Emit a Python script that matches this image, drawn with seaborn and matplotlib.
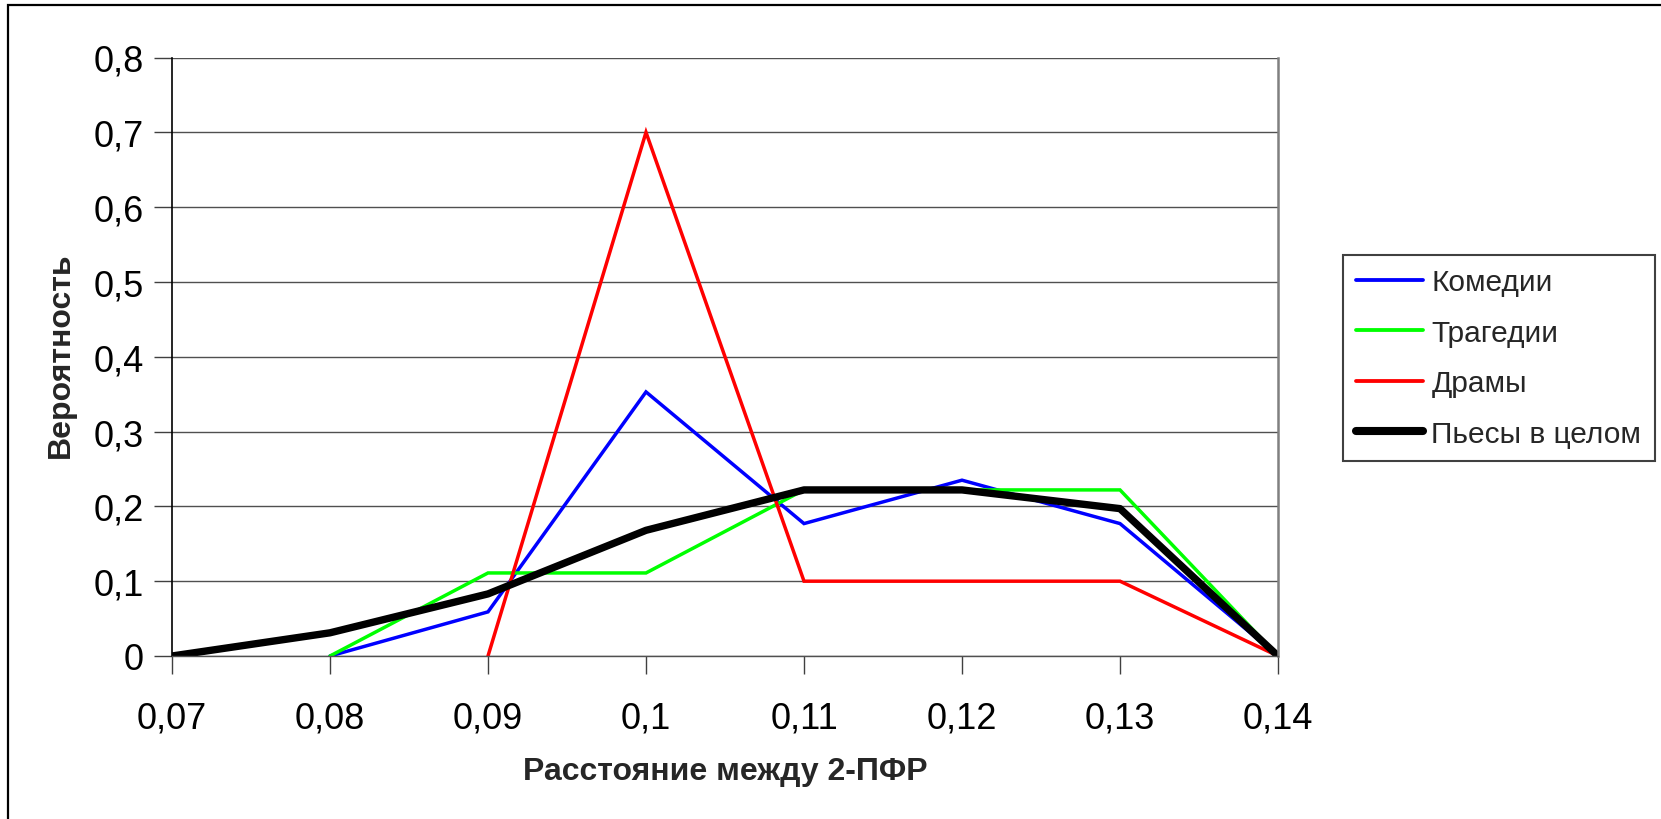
import matplotlib
matplotlib.use("Agg")
import matplotlib.pyplot as plt
import seaborn as sns
import pandas as pd
import numpy as np
from matplotlib.patches import Rectangle

# ---- data ----
x_values = [0.07, 0.08, 0.09, 0.10, 0.11, 0.12, 0.13, 0.14]
x_tick_labels = ["0,07", "0,08", "0,09", "0,1", "0,11", "0,12", "0,13", "0,14"]
y_ticks = [0, 0.1, 0.2, 0.3, 0.4, 0.5, 0.6, 0.7, 0.8]
y_tick_labels = ["0", "0,1", "0,2", "0,3", "0,4", "0,5", "0,6", "0,7", "0,8"]

comedies = [None, 0.0, 0.059, 0.353, 0.177, 0.235, 0.177, 0.0]
tragedies = [None, 0.0, 0.111, 0.111, 0.222, 0.222, 0.222, 0.0]
dramas = [None, None, 0.0, 0.70, 0.10, 0.10, 0.10, 0.0]
plays_total = [0.0, 0.031, 0.083, 0.168, 0.222, 0.222, 0.197, 0.0]

series_names = ["Комедии", "Трагедии", "Драмы", "Пьесы в целом"]
series_values = [comedies, tragedies, dramas, plays_total]
series_colors = ["#0000FF", "#00FF00", "#FF0000", "#000000"]
series_widths = [2.5, 2.5, 2.5, 5.3]

x_title = "Расстояние между 2-ПФР"
y_title = "Вероятность"

# ---- style ----
sns.set_style("white")
plt.rcParams["font.family"] = ["Liberation Sans", "DejaVu Sans"]

W, H = 1661, 820
fig = plt.figure(figsize=(W / 100, H / 100), dpi=100)
L, R, T, B = 172, 1278, 58.5, 657
ax = fig.add_axes([L / W, 1 - B / H, (R - L) / W, (B - T) / H])

for name, vals, col, lw in zip(series_names, series_values, series_colors, series_widths):
    df = pd.DataFrame({"x": x_values, "y": vals}).dropna()
    sns.lineplot(data=df, x="x", y="y", ax=ax, color=col, linewidth=lw,
                 label=name, solid_joinstyle="miter" if lw < 4 else "round")

ax.set_xlim(0.07, 0.14)
ax.set_ylim(0, 0.8)
ax.set_xticks(x_values)
ax.set_xticklabels(x_tick_labels)
ax.set_yticks(y_ticks)
ax.set_yticklabels(y_tick_labels)

ax.grid(axis="y", color="#505050", linewidth=1.0)
ax.grid(axis="x", visible=False)
ax.set_axisbelow(True)

ax.spines["top"].set_visible(False)
ax.spines["left"].set_color("#000000")
ax.spines["left"].set_linewidth(1.2)
ax.spines["bottom"].set_color("#505050")
ax.spines["bottom"].set_linewidth(1.0)
ax.spines["right"].set_color("#808080")
ax.spines["right"].set_linewidth(1.8)

ax.tick_params(axis="both", direction="out", length=13, width=1.0, color="#404040",
               labelsize=26, labelcolor="black")
ax.tick_params(axis="x", pad=19)
ax.tick_params(axis="y", pad=7.5)
ax.xaxis.set_ticks_position("bottom")
ax.yaxis.set_ticks_position("left")

ax.set_xlabel(x_title, fontsize=23, fontweight="bold", va="center")
ax.xaxis.set_label_coords(0.5, (B - 772) / (B - T))
ax.set_ylabel(y_title, fontsize=23, fontweight="bold", va="center")
ax.yaxis.set_label_coords((61 - L) / (R - L), (B - 355) / (B - T))

leg = ax.legend(loc="upper left", bbox_to_anchor=(1342.7 / W, 1 - 256 / H),
                bbox_transform=fig.transFigure, frameon=True, fancybox=False,
                framealpha=1, edgecolor="#404040", borderaxespad=0,
                handlelength=2.25, handletextpad=0.27, labelspacing=0.75,
                borderpad=0.45, fontsize=21.5)
leg.get_frame().set_linewidth(1.5)
for h, lw in zip(leg.get_lines(), series_widths):
    h.set_linewidth(lw * 1.1)

# outer chart frame
fig.patches.append(Rectangle((8 / W, -0.1), 1.2, 1 - 6 / H + 0.1, transform=fig.transFigure,
                             fill=False, edgecolor="black", linewidth=1.6))

fig.savefig("out.png", dpi=100, facecolor="white")
